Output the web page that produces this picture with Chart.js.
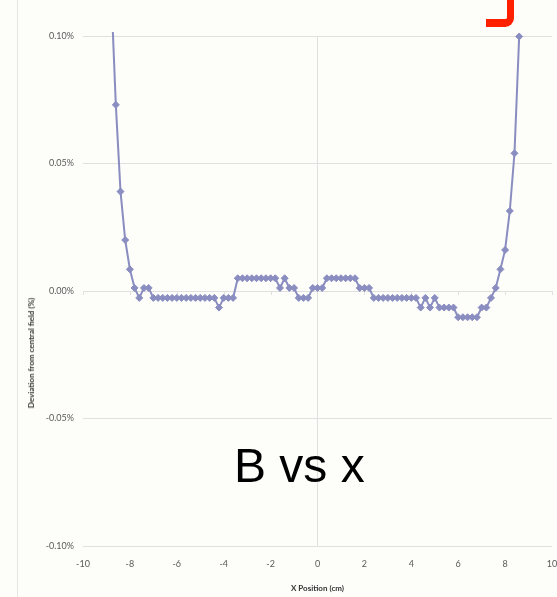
<!DOCTYPE html>
<html>
<head>
<meta charset="utf-8">
<script src="https://cdn.jsdelivr.net/npm/chart.js@4/dist/chart.umd.min.js"></script>
<style>
  body { margin: 0; background: #fdfdfa; width: 557px; height: 597px; overflow: hidden; position: relative; }
  #grafico { position: absolute; left: 0; top: 0; }
  .marco { position: absolute; left: 17px; top: 0; width: 1px; height: 597px; background: #e6e6e3; }
  .titulo-y { position: absolute; left: 31px; top: 353px; transform: translate(-50%, -50%) rotate(-90deg);
    font: bold 8px Lato, sans-serif; color: #333; white-space: nowrap; }
  .rotulo { position: absolute; left: 234px; top: 442px; font: 48px "Liberation Sans", Arial, sans-serif;
    line-height: 48px; color: #000; white-space: nowrap; }
  .marca { position: absolute; left: 486px; top: -20px; width: 21px; height: 39px;
    border-right: 7px solid #ff2000; border-bottom: 8px solid #ff2000; border-bottom-right-radius: 9px; }
</style>
</head>
<body>
<div class="marco"></div>
<canvas id="grafico" width="557" height="597"></canvas>
<div class="titulo-y">Deviation from central field (%)</div>
<div class="rotulo">B vs x</div>
<div class="marca"></div>
<script>
// posiciones (cm)
const posiciones = [
  -8.8, -8.6, -8.4, -8.2, -8.0, -7.8, -7.6, -7.4, -7.2, -7.0,
  -6.8, -6.6, -6.4, -6.2, -6.0, -5.8, -5.6, -5.4, -5.2, -5.0,
  -4.8, -4.6, -4.4, -4.2, -4.0, -3.8, -3.6, -3.4, -3.2, -3.0,
  -2.8, -2.6, -2.4, -2.2, -2.0, -1.8, -1.6, -1.4, -1.2, -1.0,
  -0.8, -0.6, -0.4, -0.2, 0.0, 0.2, 0.4, 0.6, 0.8, 1.0,
  1.2, 1.4, 1.6, 1.8, 2.0, 2.2, 2.4, 2.6, 2.8, 3.0,
  3.2, 3.4, 3.6, 3.8, 4.0, 4.2, 4.4, 4.6, 4.8, 5.0,
  5.2, 5.4, 5.6, 5.8, 6.0, 6.2, 6.4, 6.6, 6.8, 7.0,
  7.2, 7.4, 7.6, 7.8, 8.0, 8.2, 8.4, 8.6
];

// desviacion respecto al campo central (%)
const desviacion = [
  0.118, 0.073, 0.039, 0.020, 0.0085, 0.0012, -0.0027, 0.0012, 0.0012, -0.0027,
  -0.0027, -0.0027, -0.0027, -0.0027, -0.0027, -0.0027, -0.0027, -0.0027, -0.0027, -0.0027,
  -0.0027, -0.0027, -0.0027, -0.0065, -0.0027, -0.0027, -0.0027, 0.005, 0.005, 0.005,
  0.005, 0.005, 0.005, 0.005, 0.005, 0.005, 0.0012, 0.005, 0.0012, 0.0012,
  -0.0027, -0.0027, -0.0027, 0.0012, 0.0012, 0.0012, 0.005, 0.005, 0.005, 0.005,
  0.005, 0.005, 0.005, 0.0012, 0.0012, 0.0012, -0.0027, -0.0027, -0.0027, -0.0027,
  -0.0027, -0.0027, -0.0027, -0.0027, -0.0027, -0.0027, -0.0065, -0.0027, -0.0065, -0.0027,
  -0.0065, -0.0065, -0.0065, -0.0065, -0.0103, -0.0103, -0.0103, -0.0103, -0.0103, -0.0065,
  -0.0065, -0.0027, 0.0012, 0.0085, 0.0161, 0.0314, 0.054, 0.0998
];

const ticksX = [-10, -8, -6, -4, -2, 0, 2, 4, 6, 8, 10];
const ticksY = [-0.10, -0.05, 0.00, 0.05, 0.10];

const colorSerie = '#8a8dc0';
const colorGrilla = '#e0e0e0';

// marcas pequeñas sobre el eje que cruza en y = 0
const marcasEje = {
  id: 'marcasEje',
  beforeDatasetsDraw(chart) {
    const { ctx, scales } = chart;
    const y0 = scales.y.getPixelForValue(0);
    ctx.save();
    ctx.strokeStyle = colorGrilla;
    ctx.lineWidth = 1;
    ticksX.forEach(v => {
      if (v === 0) return;
      const x = Math.round(scales.x.getPixelForValue(v)) + 0.5;
      ctx.beginPath();
      ctx.moveTo(x, y0);
      ctx.lineTo(x, y0 + 4);
      ctx.stroke();
    });
    ctx.restore();
  }
};

new Chart(document.getElementById('grafico'), {
  type: 'line',
  data: {
    datasets: [{
      data: posiciones.map((x, i) => ({ x: x, y: desviacion[i] })),
      borderColor: colorSerie,
      backgroundColor: colorSerie,
      borderWidth: 2,
      pointStyle: 'rectRot',
      pointRadius: 3.5,
      pointBorderWidth: 1,
      pointBackgroundColor: colorSerie,
      pointBorderColor: colorSerie,
      tension: 0,
      clip: { left: 5, top: 4, right: 5, bottom: 5 }
    }]
  },
  options: {
    responsive: false,
    animation: false,
    layout: { padding: { top: 36, left: 0, right: 4, bottom: 0 } },
    plugins: {
      legend: { display: false },
      tooltip: { enabled: false }
    },
    scales: {
      x: {
        type: 'linear',
        min: -10,
        max: 10,
        afterBuildTicks: s => { s.ticks = ticksX.map(v => ({ value: v })); },
        afterFit: s => { s.height = 51; s.paddingLeft = 0; s.paddingRight = 0; },
        border: { display: false },
        grid: {
          drawTicks: false,
          color: c => (c.tick && c.tick.value === 0) ? colorGrilla : 'rgba(0,0,0,0)'
        },
        ticks: {
          padding: 13,
          maxRotation: 0,
          color: '#595959',
          font: { family: 'Lato', size: 9 },
          callback: v => String(v)
        },
        title: {
          display: true,
          text: 'X Position (cm)',
          color: '#333',
          font: { family: 'Lato', size: 8, weight: 'bold' },
          padding: { top: 0, bottom: 4 }
        }
      },
      y: {
        min: -0.10,
        max: 0.10,
        afterBuildTicks: s => { s.ticks = ticksY.map(v => ({ value: v })); },
        afterFit: s => { s.width = 83; s.paddingTop = 0; s.paddingBottom = 0; },
        border: { display: false },
        grid: { drawTicks: false, color: colorGrilla },
        ticks: {
          padding: 9,
          color: '#595959',
          font: { family: 'Lato', size: 9 },
          callback: v => (Math.abs(v) < 1e-9 ? 0 : v).toFixed(2) + '%'
        }
      }
    }
  },
  plugins: [marcasEje]
});
</script>
</body>
</html>
